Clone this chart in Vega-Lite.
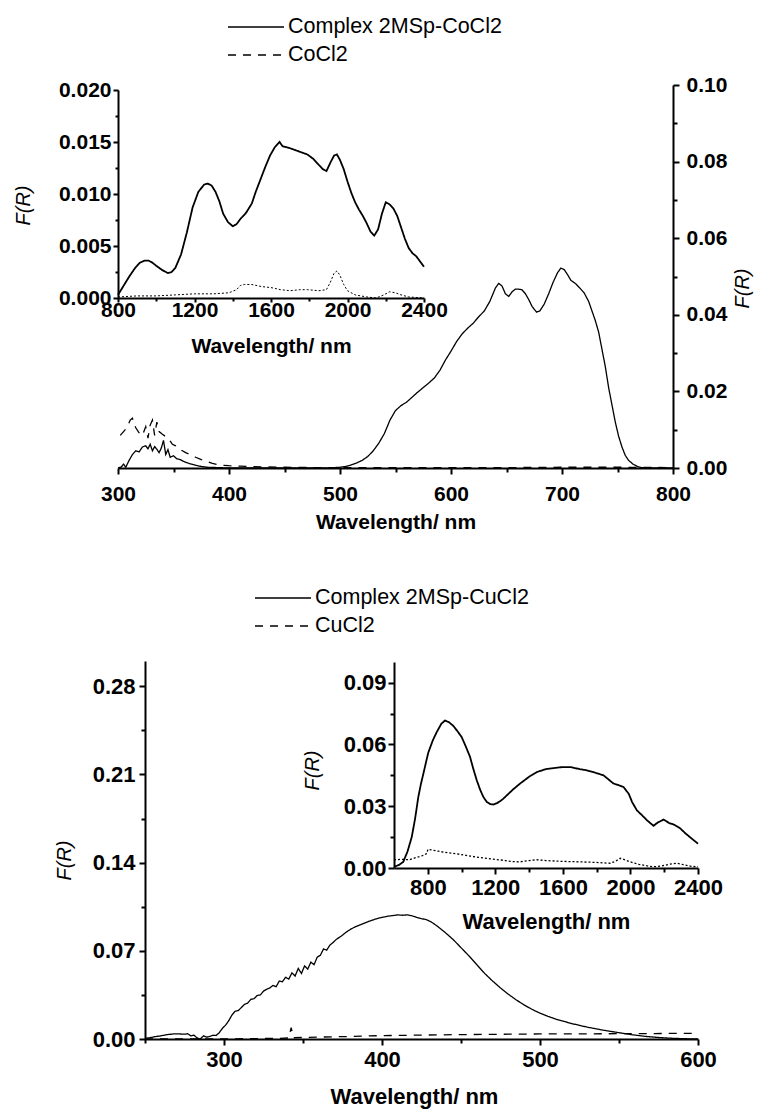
{
 "$schema": "https://vega.github.io/schema/vega-lite/v6.json",
 "width": 580,
 "height": 954,
 "autosize": {"type": "none"},
 "padding": {"left": 118, "top": 85, "right": 60, "bottom": 74},
 "background": "white",
 "config": {
  "view": {"stroke": null},
  "font": "Liberation Sans",
  "axis": {
   "grid": false,
   "domainColor": "black", "domainWidth": 2,
   "tickColor": "black", "tickWidth": 2, "tickSize": 6,
   "labelFont": "Liberation Sans", "labelFontWeight": "bold", "labelFontSize": 21, "labelColor": "black",
   "labelFlush": false, "labelOverlap": false,
   "titleFont": "Liberation Sans", "titleFontSize": 21, "titleFontWeight": "bold", "titleColor": "black"
  },
  "legend": {"labelFont": "Liberation Sans", "labelColor": "black", "labelLimit": 0}
 },
 "datasets": {
  "topMain": [
   {"wl":300,"fr":0,"s":"Complex 2MSp-CoCl2"},{"wl":303,"fr":0.0003,"s":"Complex 2MSp-CoCl2"},{"wl":305,"fr":0.001,"s":"Complex 2MSp-CoCl2"},{"wl":307,"fr":0.0002,"s":"Complex 2MSp-CoCl2"},{"wl":310,"fr":0.002,"s":"Complex 2MSp-CoCl2"},{"wl":313,"fr":0.0035,"s":"Complex 2MSp-CoCl2"},{"wl":316,"fr":0.0045,"s":"Complex 2MSp-CoCl2"},{"wl":319,"fr":0.0042,"s":"Complex 2MSp-CoCl2"},{"wl":322,"fr":0.0055,"s":"Complex 2MSp-CoCl2"},{"wl":325,"fr":0.0058,"s":"Complex 2MSp-CoCl2"},{"wl":327,"fr":0.005,"s":"Complex 2MSp-CoCl2"},{"wl":329,"fr":0.0062,"s":"Complex 2MSp-CoCl2"},{"wl":331,"fr":0.0045,"s":"Complex 2MSp-CoCl2"},{"wl":333,"fr":0.0056,"s":"Complex 2MSp-CoCl2"},{"wl":335,"fr":0.0049,"s":"Complex 2MSp-CoCl2"},{"wl":337,"fr":0.004,"s":"Complex 2MSp-CoCl2"},{"wl":339,"fr":0.0052,"s":"Complex 2MSp-CoCl2"},{"wl":341,"fr":0.0072,"s":"Complex 2MSp-CoCl2"},{"wl":343,"fr":0.0035,"s":"Complex 2MSp-CoCl2"},{"wl":345,"fr":0.0048,"s":"Complex 2MSp-CoCl2"},{"wl":347,"fr":0.0028,"s":"Complex 2MSp-CoCl2"},{"wl":350,"fr":0.0032,"s":"Complex 2MSp-CoCl2"},{"wl":353,"fr":0.0024,"s":"Complex 2MSp-CoCl2"},{"wl":356,"fr":0.0022,"s":"Complex 2MSp-CoCl2"},{"wl":360,"fr":0.0016,"s":"Complex 2MSp-CoCl2"},{"wl":365,"fr":0.0011,"s":"Complex 2MSp-CoCl2"},{"wl":370,"fr":0.0007,"s":"Complex 2MSp-CoCl2"},{"wl":375,"fr":0.0004,"s":"Complex 2MSp-CoCl2"},{"wl":380,"fr":0.0002,"s":"Complex 2MSp-CoCl2"},{"wl":390,"fr":0.0001,"s":"Complex 2MSp-CoCl2"},{"wl":400,"fr":0,"s":"Complex 2MSp-CoCl2"},{"wl":450,"fr":0,"s":"Complex 2MSp-CoCl2"},{"wl":490,"fr":0,"s":"Complex 2MSp-CoCl2"},{"wl":500,"fr":0.0002,"s":"Complex 2MSp-CoCl2"},{"wl":505,"fr":0.0004,"s":"Complex 2MSp-CoCl2"},{"wl":510,"fr":0.0008,"s":"Complex 2MSp-CoCl2"},{"wl":515,"fr":0.0013,"s":"Complex 2MSp-CoCl2"},{"wl":520,"fr":0.002,"s":"Complex 2MSp-CoCl2"},{"wl":525,"fr":0.003,"s":"Complex 2MSp-CoCl2"},{"wl":530,"fr":0.0045,"s":"Complex 2MSp-CoCl2"},{"wl":535,"fr":0.0065,"s":"Complex 2MSp-CoCl2"},{"wl":540,"fr":0.009,"s":"Complex 2MSp-CoCl2"},{"wl":545,"fr":0.0125,"s":"Complex 2MSp-CoCl2"},{"wl":550,"fr":0.015,"s":"Complex 2MSp-CoCl2"},{"wl":555,"fr":0.0163,"s":"Complex 2MSp-CoCl2"},{"wl":560,"fr":0.0172,"s":"Complex 2MSp-CoCl2"},{"wl":565,"fr":0.0185,"s":"Complex 2MSp-CoCl2"},{"wl":570,"fr":0.0198,"s":"Complex 2MSp-CoCl2"},{"wl":575,"fr":0.021,"s":"Complex 2MSp-CoCl2"},{"wl":580,"fr":0.0222,"s":"Complex 2MSp-CoCl2"},{"wl":585,"fr":0.0235,"s":"Complex 2MSp-CoCl2"},{"wl":590,"fr":0.0255,"s":"Complex 2MSp-CoCl2"},{"wl":595,"fr":0.0282,"s":"Complex 2MSp-CoCl2"},{"wl":600,"fr":0.0305,"s":"Complex 2MSp-CoCl2"},{"wl":605,"fr":0.033,"s":"Complex 2MSp-CoCl2"},{"wl":610,"fr":0.035,"s":"Complex 2MSp-CoCl2"},{"wl":615,"fr":0.0365,"s":"Complex 2MSp-CoCl2"},{"wl":620,"fr":0.0378,"s":"Complex 2MSp-CoCl2"},{"wl":625,"fr":0.0395,"s":"Complex 2MSp-CoCl2"},{"wl":630,"fr":0.041,"s":"Complex 2MSp-CoCl2"},{"wl":635,"fr":0.0435,"s":"Complex 2MSp-CoCl2"},{"wl":640,"fr":0.047,"s":"Complex 2MSp-CoCl2"},{"wl":643,"fr":0.0482,"s":"Complex 2MSp-CoCl2"},{"wl":646,"fr":0.0475,"s":"Complex 2MSp-CoCl2"},{"wl":649,"fr":0.0455,"s":"Complex 2MSp-CoCl2"},{"wl":652,"fr":0.0448,"s":"Complex 2MSp-CoCl2"},{"wl":655,"fr":0.046,"s":"Complex 2MSp-CoCl2"},{"wl":658,"fr":0.0467,"s":"Complex 2MSp-CoCl2"},{"wl":661,"fr":0.0467,"s":"Complex 2MSp-CoCl2"},{"wl":664,"fr":0.0465,"s":"Complex 2MSp-CoCl2"},{"wl":667,"fr":0.0455,"s":"Complex 2MSp-CoCl2"},{"wl":670,"fr":0.044,"s":"Complex 2MSp-CoCl2"},{"wl":673,"fr":0.0422,"s":"Complex 2MSp-CoCl2"},{"wl":677,"fr":0.0407,"s":"Complex 2MSp-CoCl2"},{"wl":680,"fr":0.041,"s":"Complex 2MSp-CoCl2"},{"wl":684,"fr":0.0428,"s":"Complex 2MSp-CoCl2"},{"wl":688,"fr":0.0455,"s":"Complex 2MSp-CoCl2"},{"wl":692,"fr":0.0485,"s":"Complex 2MSp-CoCl2"},{"wl":696,"fr":0.051,"s":"Complex 2MSp-CoCl2"},{"wl":699,"fr":0.0522,"s":"Complex 2MSp-CoCl2"},{"wl":702,"fr":0.0518,"s":"Complex 2MSp-CoCl2"},{"wl":705,"fr":0.0505,"s":"Complex 2MSp-CoCl2"},{"wl":708,"fr":0.049,"s":"Complex 2MSp-CoCl2"},{"wl":712,"fr":0.0482,"s":"Complex 2MSp-CoCl2"},{"wl":716,"fr":0.047,"s":"Complex 2MSp-CoCl2"},{"wl":720,"fr":0.0457,"s":"Complex 2MSp-CoCl2"},{"wl":724,"fr":0.0435,"s":"Complex 2MSp-CoCl2"},{"wl":727,"fr":0.041,"s":"Complex 2MSp-CoCl2"},{"wl":730,"fr":0.0385,"s":"Complex 2MSp-CoCl2"},{"wl":733,"fr":0.0355,"s":"Complex 2MSp-CoCl2"},{"wl":736,"fr":0.031,"s":"Complex 2MSp-CoCl2"},{"wl":739,"fr":0.0265,"s":"Complex 2MSp-CoCl2"},{"wl":742,"fr":0.021,"s":"Complex 2MSp-CoCl2"},{"wl":745,"fr":0.0165,"s":"Complex 2MSp-CoCl2"},{"wl":748,"fr":0.012,"s":"Complex 2MSp-CoCl2"},{"wl":751,"fr":0.0083,"s":"Complex 2MSp-CoCl2"},{"wl":754,"fr":0.0055,"s":"Complex 2MSp-CoCl2"},{"wl":757,"fr":0.0033,"s":"Complex 2MSp-CoCl2"},{"wl":760,"fr":0.002,"s":"Complex 2MSp-CoCl2"},{"wl":764,"fr":0.001,"s":"Complex 2MSp-CoCl2"},{"wl":768,"fr":0.0004,"s":"Complex 2MSp-CoCl2"},{"wl":772,"fr":0.0001,"s":"Complex 2MSp-CoCl2"},{"wl":780,"fr":0,"s":"Complex 2MSp-CoCl2"},{"wl":800,"fr":0,"s":"Complex 2MSp-CoCl2"},
   {"wl":302,"fr":0.0085,"s":"CoCl2"},{"wl":305,"fr":0.0095,"s":"CoCl2"},{"wl":308,"fr":0.0105,"s":"CoCl2"},{"wl":311,"fr":0.0125,"s":"CoCl2"},{"wl":313,"fr":0.013,"s":"CoCl2"},{"wl":316,"fr":0.0105,"s":"CoCl2"},{"wl":319,"fr":0.0092,"s":"CoCl2"},{"wl":322,"fr":0.0085,"s":"CoCl2"},{"wl":325,"fr":0.0108,"s":"CoCl2"},{"wl":327,"fr":0.0078,"s":"CoCl2"},{"wl":329,"fr":0.0112,"s":"CoCl2"},{"wl":331,"fr":0.0125,"s":"CoCl2"},{"wl":333,"fr":0.0085,"s":"CoCl2"},{"wl":335,"fr":0.012,"s":"CoCl2"},{"wl":337,"fr":0.0095,"s":"CoCl2"},{"wl":340,"fr":0.0088,"s":"CoCl2"},{"wl":343,"fr":0.0082,"s":"CoCl2"},{"wl":346,"fr":0.0075,"s":"CoCl2"},{"wl":349,"fr":0.0062,"s":"CoCl2"},{"wl":352,"fr":0.0058,"s":"CoCl2"},{"wl":355,"fr":0.005,"s":"CoCl2"},{"wl":358,"fr":0.0045,"s":"CoCl2"},{"wl":361,"fr":0.004,"s":"CoCl2"},{"wl":365,"fr":0.0035,"s":"CoCl2"},{"wl":370,"fr":0.0028,"s":"CoCl2"},{"wl":375,"fr":0.0022,"s":"CoCl2"},{"wl":380,"fr":0.0017,"s":"CoCl2"},{"wl":385,"fr":0.0012,"s":"CoCl2"},{"wl":390,"fr":0.0009,"s":"CoCl2"},{"wl":395,"fr":0.0007,"s":"CoCl2"},{"wl":400,"fr":0.0006,"s":"CoCl2"},{"wl":410,"fr":0.0005,"s":"CoCl2"},{"wl":420,"fr":0.0004,"s":"CoCl2"},{"wl":430,"fr":0.0003,"s":"CoCl2"},{"wl":450,"fr":0.0002,"s":"CoCl2"},{"wl":480,"fr":0.0001,"s":"CoCl2"},{"wl":550,"fr":0.0001,"s":"CoCl2"},{"wl":650,"fr":0.0001,"s":"CoCl2"},{"wl":700,"fr":0.0002,"s":"CoCl2"},{"wl":750,"fr":0.0002,"s":"CoCl2"},{"wl":800,"fr":0.0001,"s":"CoCl2"}
  ],
  "topInset": [
   {"wl":800,"fr":0.0003,"s":"Complex 2MSp-CoCl2"},{"wl":830,"fr":0.0012,"s":"Complex 2MSp-CoCl2"},{"wl":860,"fr":0.0021,"s":"Complex 2MSp-CoCl2"},{"wl":890,"fr":0.0029,"s":"Complex 2MSp-CoCl2"},{"wl":915,"fr":0.0034,"s":"Complex 2MSp-CoCl2"},{"wl":940,"fr":0.0036,"s":"Complex 2MSp-CoCl2"},{"wl":960,"fr":0.0036,"s":"Complex 2MSp-CoCl2"},{"wl":980,"fr":0.0034,"s":"Complex 2MSp-CoCl2"},{"wl":1000,"fr":0.0031,"s":"Complex 2MSp-CoCl2"},{"wl":1030,"fr":0.0027,"s":"Complex 2MSp-CoCl2"},{"wl":1060,"fr":0.0024,"s":"Complex 2MSp-CoCl2"},{"wl":1080,"fr":0.0025,"s":"Complex 2MSp-CoCl2"},{"wl":1100,"fr":0.0029,"s":"Complex 2MSp-CoCl2"},{"wl":1130,"fr":0.0042,"s":"Complex 2MSp-CoCl2"},{"wl":1160,"fr":0.0063,"s":"Complex 2MSp-CoCl2"},{"wl":1190,"fr":0.0087,"s":"Complex 2MSp-CoCl2"},{"wl":1220,"fr":0.0102,"s":"Complex 2MSp-CoCl2"},{"wl":1250,"fr":0.0109,"s":"Complex 2MSp-CoCl2"},{"wl":1270,"fr":0.011,"s":"Complex 2MSp-CoCl2"},{"wl":1290,"fr":0.0108,"s":"Complex 2MSp-CoCl2"},{"wl":1310,"fr":0.0102,"s":"Complex 2MSp-CoCl2"},{"wl":1330,"fr":0.0093,"s":"Complex 2MSp-CoCl2"},{"wl":1350,"fr":0.0081,"s":"Complex 2MSp-CoCl2"},{"wl":1375,"fr":0.0073,"s":"Complex 2MSp-CoCl2"},{"wl":1400,"fr":0.0069,"s":"Complex 2MSp-CoCl2"},{"wl":1420,"fr":0.0071,"s":"Complex 2MSp-CoCl2"},{"wl":1440,"fr":0.0076,"s":"Complex 2MSp-CoCl2"},{"wl":1470,"fr":0.0082,"s":"Complex 2MSp-CoCl2"},{"wl":1500,"fr":0.0091,"s":"Complex 2MSp-CoCl2"},{"wl":1520,"fr":0.0102,"s":"Complex 2MSp-CoCl2"},{"wl":1545,"fr":0.0114,"s":"Complex 2MSp-CoCl2"},{"wl":1570,"fr":0.0126,"s":"Complex 2MSp-CoCl2"},{"wl":1595,"fr":0.0137,"s":"Complex 2MSp-CoCl2"},{"wl":1620,"fr":0.0145,"s":"Complex 2MSp-CoCl2"},{"wl":1645,"fr":0.015,"s":"Complex 2MSp-CoCl2"},{"wl":1660,"fr":0.0146,"s":"Complex 2MSp-CoCl2"},{"wl":1680,"fr":0.0145,"s":"Complex 2MSp-CoCl2"},{"wl":1700,"fr":0.0144,"s":"Complex 2MSp-CoCl2"},{"wl":1730,"fr":0.0142,"s":"Complex 2MSp-CoCl2"},{"wl":1760,"fr":0.014,"s":"Complex 2MSp-CoCl2"},{"wl":1790,"fr":0.0138,"s":"Complex 2MSp-CoCl2"},{"wl":1820,"fr":0.0134,"s":"Complex 2MSp-CoCl2"},{"wl":1850,"fr":0.0128,"s":"Complex 2MSp-CoCl2"},{"wl":1870,"fr":0.0124,"s":"Complex 2MSp-CoCl2"},{"wl":1890,"fr":0.0122,"s":"Complex 2MSp-CoCl2"},{"wl":1910,"fr":0.013,"s":"Complex 2MSp-CoCl2"},{"wl":1930,"fr":0.0137,"s":"Complex 2MSp-CoCl2"},{"wl":1945,"fr":0.0138,"s":"Complex 2MSp-CoCl2"},{"wl":1960,"fr":0.0133,"s":"Complex 2MSp-CoCl2"},{"wl":1980,"fr":0.0124,"s":"Complex 2MSp-CoCl2"},{"wl":2000,"fr":0.0112,"s":"Complex 2MSp-CoCl2"},{"wl":2020,"fr":0.0101,"s":"Complex 2MSp-CoCl2"},{"wl":2040,"fr":0.0092,"s":"Complex 2MSp-CoCl2"},{"wl":2060,"fr":0.0085,"s":"Complex 2MSp-CoCl2"},{"wl":2080,"fr":0.0079,"s":"Complex 2MSp-CoCl2"},{"wl":2100,"fr":0.0072,"s":"Complex 2MSp-CoCl2"},{"wl":2120,"fr":0.0064,"s":"Complex 2MSp-CoCl2"},{"wl":2140,"fr":0.006,"s":"Complex 2MSp-CoCl2"},{"wl":2160,"fr":0.0066,"s":"Complex 2MSp-CoCl2"},{"wl":2180,"fr":0.0081,"s":"Complex 2MSp-CoCl2"},{"wl":2200,"fr":0.0092,"s":"Complex 2MSp-CoCl2"},{"wl":2220,"fr":0.009,"s":"Complex 2MSp-CoCl2"},{"wl":2240,"fr":0.0086,"s":"Complex 2MSp-CoCl2"},{"wl":2260,"fr":0.0079,"s":"Complex 2MSp-CoCl2"},{"wl":2280,"fr":0.0068,"s":"Complex 2MSp-CoCl2"},{"wl":2300,"fr":0.0057,"s":"Complex 2MSp-CoCl2"},{"wl":2320,"fr":0.0048,"s":"Complex 2MSp-CoCl2"},{"wl":2340,"fr":0.0043,"s":"Complex 2MSp-CoCl2"},{"wl":2360,"fr":0.004,"s":"Complex 2MSp-CoCl2"},{"wl":2380,"fr":0.0035,"s":"Complex 2MSp-CoCl2"},{"wl":2400,"fr":0.003,"s":"Complex 2MSp-CoCl2"},
   {"wl":800,"fr":0.0001,"s":"CoCl2"},{"wl":900,"fr":0.0002,"s":"CoCl2"},{"wl":1000,"fr":0.0002,"s":"CoCl2"},{"wl":1100,"fr":0.0003,"s":"CoCl2"},{"wl":1200,"fr":0.0004,"s":"CoCl2"},{"wl":1300,"fr":0.0004,"s":"CoCl2"},{"wl":1380,"fr":0.0005,"s":"CoCl2"},{"wl":1420,"fr":0.0008,"s":"CoCl2"},{"wl":1440,"fr":0.0012,"s":"CoCl2"},{"wl":1460,"fr":0.0013,"s":"CoCl2"},{"wl":1500,"fr":0.0013,"s":"CoCl2"},{"wl":1550,"fr":0.0011,"s":"CoCl2"},{"wl":1600,"fr":0.001,"s":"CoCl2"},{"wl":1650,"fr":0.0008,"s":"CoCl2"},{"wl":1700,"fr":0.0007,"s":"CoCl2"},{"wl":1750,"fr":0.0008,"s":"CoCl2"},{"wl":1790,"fr":0.0008,"s":"CoCl2"},{"wl":1850,"fr":0.0007,"s":"CoCl2"},{"wl":1890,"fr":0.0008,"s":"CoCl2"},{"wl":1910,"fr":0.0015,"s":"CoCl2"},{"wl":1930,"fr":0.0024,"s":"CoCl2"},{"wl":1945,"fr":0.0026,"s":"CoCl2"},{"wl":1960,"fr":0.0022,"s":"CoCl2"},{"wl":1980,"fr":0.0013,"s":"CoCl2"},{"wl":2000,"fr":0.0007,"s":"CoCl2"},{"wl":2040,"fr":0.0003,"s":"CoCl2"},{"wl":2100,"fr":0.0001,"s":"CoCl2"},{"wl":2150,"fr":0,"s":"CoCl2"},{"wl":2190,"fr":0.0003,"s":"CoCl2"},{"wl":2220,"fr":0.0006,"s":"CoCl2"},{"wl":2250,"fr":0.0005,"s":"CoCl2"},{"wl":2280,"fr":0.0003,"s":"CoCl2"},{"wl":2320,"fr":0.0001,"s":"CoCl2"},{"wl":2400,"fr":0,"s":"CoCl2"}
  ],
  "botMain": [
   {"wl":250,"fr":0.0005,"s":"Complex 2MSp-CuCl2"},{"wl":253,"fr":0.001,"s":"Complex 2MSp-CuCl2"},{"wl":256,"fr":0.0018,"s":"Complex 2MSp-CuCl2"},{"wl":260,"fr":0.0025,"s":"Complex 2MSp-CuCl2"},{"wl":264,"fr":0.0035,"s":"Complex 2MSp-CuCl2"},{"wl":268,"fr":0.004,"s":"Complex 2MSp-CuCl2"},{"wl":272,"fr":0.004,"s":"Complex 2MSp-CuCl2"},{"wl":275,"fr":0.0038,"s":"Complex 2MSp-CuCl2"},{"wl":277,"fr":0.0042,"s":"Complex 2MSp-CuCl2"},{"wl":279,"fr":0.0025,"s":"Complex 2MSp-CuCl2"},{"wl":281,"fr":0.003,"s":"Complex 2MSp-CuCl2"},{"wl":283,"fr":0.0008,"s":"Complex 2MSp-CuCl2"},{"wl":285,"fr":0,"s":"Complex 2MSp-CuCl2"},{"wl":287,"fr":0.0025,"s":"Complex 2MSp-CuCl2"},{"wl":289,"fr":0.0015,"s":"Complex 2MSp-CuCl2"},{"wl":291,"fr":0.002,"s":"Complex 2MSp-CuCl2"},{"wl":293,"fr":0.003,"s":"Complex 2MSp-CuCl2"},{"wl":295,"fr":0.0028,"s":"Complex 2MSp-CuCl2"},{"wl":297,"fr":0.005,"s":"Complex 2MSp-CuCl2"},{"wl":299,"fr":0.0085,"s":"Complex 2MSp-CuCl2"},{"wl":301,"fr":0.011,"s":"Complex 2MSp-CuCl2"},{"wl":303,"fr":0.0145,"s":"Complex 2MSp-CuCl2"},{"wl":305,"fr":0.019,"s":"Complex 2MSp-CuCl2"},{"wl":307,"fr":0.022,"s":"Complex 2MSp-CuCl2"},{"wl":309,"fr":0.0225,"s":"Complex 2MSp-CuCl2"},{"wl":311,"fr":0.025,"s":"Complex 2MSp-CuCl2"},{"wl":313,"fr":0.0275,"s":"Complex 2MSp-CuCl2"},{"wl":315,"fr":0.0285,"s":"Complex 2MSp-CuCl2"},{"wl":317,"fr":0.0315,"s":"Complex 2MSp-CuCl2"},{"wl":319,"fr":0.032,"s":"Complex 2MSp-CuCl2"},{"wl":321,"fr":0.0345,"s":"Complex 2MSp-CuCl2"},{"wl":323,"fr":0.035,"s":"Complex 2MSp-CuCl2"},{"wl":325,"fr":0.038,"s":"Complex 2MSp-CuCl2"},{"wl":327,"fr":0.0395,"s":"Complex 2MSp-CuCl2"},{"wl":329,"fr":0.0405,"s":"Complex 2MSp-CuCl2"},{"wl":331,"fr":0.0425,"s":"Complex 2MSp-CuCl2"},{"wl":333,"fr":0.0415,"s":"Complex 2MSp-CuCl2"},{"wl":335,"fr":0.046,"s":"Complex 2MSp-CuCl2"},{"wl":337,"fr":0.0455,"s":"Complex 2MSp-CuCl2"},{"wl":339,"fr":0.049,"s":"Complex 2MSp-CuCl2"},{"wl":341,"fr":0.0475,"s":"Complex 2MSp-CuCl2"},{"wl":343,"fr":0.0525,"s":"Complex 2MSp-CuCl2"},{"wl":345,"fr":0.05,"s":"Complex 2MSp-CuCl2"},{"wl":347,"fr":0.056,"s":"Complex 2MSp-CuCl2"},{"wl":349,"fr":0.052,"s":"Complex 2MSp-CuCl2"},{"wl":351,"fr":0.058,"s":"Complex 2MSp-CuCl2"},{"wl":353,"fr":0.0555,"s":"Complex 2MSp-CuCl2"},{"wl":355,"fr":0.061,"s":"Complex 2MSp-CuCl2"},{"wl":357,"fr":0.059,"s":"Complex 2MSp-CuCl2"},{"wl":359,"fr":0.065,"s":"Complex 2MSp-CuCl2"},{"wl":361,"fr":0.0665,"s":"Complex 2MSp-CuCl2"},{"wl":363,"fr":0.0715,"s":"Complex 2MSp-CuCl2"},{"wl":365,"fr":0.0705,"s":"Complex 2MSp-CuCl2"},{"wl":367,"fr":0.0745,"s":"Complex 2MSp-CuCl2"},{"wl":369,"fr":0.0765,"s":"Complex 2MSp-CuCl2"},{"wl":371,"fr":0.079,"s":"Complex 2MSp-CuCl2"},{"wl":374,"fr":0.0815,"s":"Complex 2MSp-CuCl2"},{"wl":377,"fr":0.0845,"s":"Complex 2MSp-CuCl2"},{"wl":380,"fr":0.087,"s":"Complex 2MSp-CuCl2"},{"wl":383,"fr":0.089,"s":"Complex 2MSp-CuCl2"},{"wl":386,"fr":0.0905,"s":"Complex 2MSp-CuCl2"},{"wl":389,"fr":0.092,"s":"Complex 2MSp-CuCl2"},{"wl":392,"fr":0.0935,"s":"Complex 2MSp-CuCl2"},{"wl":395,"fr":0.0948,"s":"Complex 2MSp-CuCl2"},{"wl":398,"fr":0.096,"s":"Complex 2MSp-CuCl2"},{"wl":401,"fr":0.0968,"s":"Complex 2MSp-CuCl2"},{"wl":404,"fr":0.0975,"s":"Complex 2MSp-CuCl2"},{"wl":407,"fr":0.098,"s":"Complex 2MSp-CuCl2"},{"wl":410,"fr":0.0985,"s":"Complex 2MSp-CuCl2"},{"wl":413,"fr":0.0982,"s":"Complex 2MSp-CuCl2"},{"wl":416,"fr":0.0985,"s":"Complex 2MSp-CuCl2"},{"wl":419,"fr":0.0978,"s":"Complex 2MSp-CuCl2"},{"wl":422,"fr":0.0965,"s":"Complex 2MSp-CuCl2"},{"wl":425,"fr":0.0955,"s":"Complex 2MSp-CuCl2"},{"wl":428,"fr":0.0948,"s":"Complex 2MSp-CuCl2"},{"wl":431,"fr":0.093,"s":"Complex 2MSp-CuCl2"},{"wl":434,"fr":0.0905,"s":"Complex 2MSp-CuCl2"},{"wl":437,"fr":0.0875,"s":"Complex 2MSp-CuCl2"},{"wl":440,"fr":0.0845,"s":"Complex 2MSp-CuCl2"},{"wl":445,"fr":0.079,"s":"Complex 2MSp-CuCl2"},{"wl":450,"fr":0.0725,"s":"Complex 2MSp-CuCl2"},{"wl":455,"fr":0.066,"s":"Complex 2MSp-CuCl2"},{"wl":460,"fr":0.059,"s":"Complex 2MSp-CuCl2"},{"wl":465,"fr":0.052,"s":"Complex 2MSp-CuCl2"},{"wl":470,"fr":0.046,"s":"Complex 2MSp-CuCl2"},{"wl":475,"fr":0.0405,"s":"Complex 2MSp-CuCl2"},{"wl":480,"fr":0.0355,"s":"Complex 2MSp-CuCl2"},{"wl":485,"fr":0.031,"s":"Complex 2MSp-CuCl2"},{"wl":490,"fr":0.027,"s":"Complex 2MSp-CuCl2"},{"wl":495,"fr":0.0235,"s":"Complex 2MSp-CuCl2"},{"wl":500,"fr":0.0205,"s":"Complex 2MSp-CuCl2"},{"wl":505,"fr":0.018,"s":"Complex 2MSp-CuCl2"},{"wl":510,"fr":0.0158,"s":"Complex 2MSp-CuCl2"},{"wl":515,"fr":0.014,"s":"Complex 2MSp-CuCl2"},{"wl":520,"fr":0.0123,"s":"Complex 2MSp-CuCl2"},{"wl":525,"fr":0.0108,"s":"Complex 2MSp-CuCl2"},{"wl":530,"fr":0.0094,"s":"Complex 2MSp-CuCl2"},{"wl":535,"fr":0.0082,"s":"Complex 2MSp-CuCl2"},{"wl":540,"fr":0.007,"s":"Complex 2MSp-CuCl2"},{"wl":545,"fr":0.006,"s":"Complex 2MSp-CuCl2"},{"wl":550,"fr":0.005,"s":"Complex 2MSp-CuCl2"},{"wl":555,"fr":0.004,"s":"Complex 2MSp-CuCl2"},{"wl":560,"fr":0.0031,"s":"Complex 2MSp-CuCl2"},{"wl":565,"fr":0.0023,"s":"Complex 2MSp-CuCl2"},{"wl":570,"fr":0.0017,"s":"Complex 2MSp-CuCl2"},{"wl":575,"fr":0.0012,"s":"Complex 2MSp-CuCl2"},{"wl":580,"fr":0.0008,"s":"Complex 2MSp-CuCl2"},{"wl":585,"fr":0.0005,"s":"Complex 2MSp-CuCl2"},{"wl":590,"fr":0.0003,"s":"Complex 2MSp-CuCl2"},{"wl":595,"fr":0.0001,"s":"Complex 2MSp-CuCl2"},{"wl":600,"fr":0,"s":"Complex 2MSp-CuCl2"},
   {"wl":250,"fr":0,"s":"CuCl2"},{"wl":300,"fr":0,"s":"CuCl2"},{"wl":320,"fr":0.0003,"s":"CuCl2"},{"wl":335,"fr":0.0005,"s":"CuCl2"},{"wl":341,"fr":0.0008,"s":"CuCl2"},{"wl":342.5,"fr":0.009,"s":"CuCl2"},{"wl":344,"fr":0.001,"s":"CuCl2"},{"wl":350,"fr":0.0012,"s":"CuCl2"},{"wl":360,"fr":0.0015,"s":"CuCl2"},{"wl":380,"fr":0.002,"s":"CuCl2"},{"wl":400,"fr":0.0027,"s":"CuCl2"},{"wl":420,"fr":0.003,"s":"CuCl2"},{"wl":450,"fr":0.0035,"s":"CuCl2"},{"wl":480,"fr":0.0038,"s":"CuCl2"},{"wl":500,"fr":0.004,"s":"CuCl2"},{"wl":550,"fr":0.0042,"s":"CuCl2"},{"wl":600,"fr":0.0045,"s":"CuCl2"}
  ],
  "botInset": [
   {"wl":600,"fr":0.0006,"s":"Complex 2MSp-CuCl2"},{"wl":630,"fr":0.0015,"s":"Complex 2MSp-CuCl2"},{"wl":655,"fr":0.003,"s":"Complex 2MSp-CuCl2"},{"wl":680,"fr":0.008,"s":"Complex 2MSp-CuCl2"},{"wl":705,"fr":0.015,"s":"Complex 2MSp-CuCl2"},{"wl":725,"fr":0.024,"s":"Complex 2MSp-CuCl2"},{"wl":744,"fr":0.0345,"s":"Complex 2MSp-CuCl2"},{"wl":760,"fr":0.041,"s":"Complex 2MSp-CuCl2"},{"wl":774,"fr":0.0458,"s":"Complex 2MSp-CuCl2"},{"wl":790,"fr":0.0515,"s":"Complex 2MSp-CuCl2"},{"wl":803,"fr":0.056,"s":"Complex 2MSp-CuCl2"},{"wl":830,"fr":0.062,"s":"Complex 2MSp-CuCl2"},{"wl":853,"fr":0.066,"s":"Complex 2MSp-CuCl2"},{"wl":880,"fr":0.07,"s":"Complex 2MSp-CuCl2"},{"wl":902,"fr":0.0716,"s":"Complex 2MSp-CuCl2"},{"wl":925,"fr":0.0708,"s":"Complex 2MSp-CuCl2"},{"wl":951,"fr":0.069,"s":"Complex 2MSp-CuCl2"},{"wl":975,"fr":0.0665,"s":"Complex 2MSp-CuCl2"},{"wl":1001,"fr":0.0635,"s":"Complex 2MSp-CuCl2"},{"wl":1025,"fr":0.059,"s":"Complex 2MSp-CuCl2"},{"wl":1050,"fr":0.054,"s":"Complex 2MSp-CuCl2"},{"wl":1070,"fr":0.048,"s":"Complex 2MSp-CuCl2"},{"wl":1090,"fr":0.0426,"s":"Complex 2MSp-CuCl2"},{"wl":1110,"fr":0.038,"s":"Complex 2MSp-CuCl2"},{"wl":1129,"fr":0.0345,"s":"Complex 2MSp-CuCl2"},{"wl":1150,"fr":0.032,"s":"Complex 2MSp-CuCl2"},{"wl":1170,"fr":0.031,"s":"Complex 2MSp-CuCl2"},{"wl":1188,"fr":0.0308,"s":"Complex 2MSp-CuCl2"},{"wl":1210,"fr":0.0315,"s":"Complex 2MSp-CuCl2"},{"wl":1230,"fr":0.0325,"s":"Complex 2MSp-CuCl2"},{"wl":1248,"fr":0.0337,"s":"Complex 2MSp-CuCl2"},{"wl":1280,"fr":0.0362,"s":"Complex 2MSp-CuCl2"},{"wl":1310,"fr":0.0385,"s":"Complex 2MSp-CuCl2"},{"wl":1347,"fr":0.041,"s":"Complex 2MSp-CuCl2"},{"wl":1400,"fr":0.0443,"s":"Complex 2MSp-CuCl2"},{"wl":1446,"fr":0.0466,"s":"Complex 2MSp-CuCl2"},{"wl":1500,"fr":0.048,"s":"Complex 2MSp-CuCl2"},{"wl":1544,"fr":0.0485,"s":"Complex 2MSp-CuCl2"},{"wl":1600,"fr":0.049,"s":"Complex 2MSp-CuCl2"},{"wl":1643,"fr":0.049,"s":"Complex 2MSp-CuCl2"},{"wl":1700,"fr":0.048,"s":"Complex 2MSp-CuCl2"},{"wl":1742,"fr":0.0474,"s":"Complex 2MSp-CuCl2"},{"wl":1790,"fr":0.0463,"s":"Complex 2MSp-CuCl2"},{"wl":1840,"fr":0.045,"s":"Complex 2MSp-CuCl2"},{"wl":1870,"fr":0.043,"s":"Complex 2MSp-CuCl2"},{"wl":1900,"fr":0.041,"s":"Complex 2MSp-CuCl2"},{"wl":1930,"fr":0.0402,"s":"Complex 2MSp-CuCl2"},{"wl":1959,"fr":0.0393,"s":"Complex 2MSp-CuCl2"},{"wl":1990,"fr":0.036,"s":"Complex 2MSp-CuCl2"},{"wl":2010,"fr":0.032,"s":"Complex 2MSp-CuCl2"},{"wl":2038,"fr":0.028,"s":"Complex 2MSp-CuCl2"},{"wl":2070,"fr":0.0255,"s":"Complex 2MSp-CuCl2"},{"wl":2100,"fr":0.023,"s":"Complex 2MSp-CuCl2"},{"wl":2137,"fr":0.0205,"s":"Complex 2MSp-CuCl2"},{"wl":2160,"fr":0.022,"s":"Complex 2MSp-CuCl2"},{"wl":2196,"fr":0.0235,"s":"Complex 2MSp-CuCl2"},{"wl":2230,"fr":0.0218,"s":"Complex 2MSp-CuCl2"},{"wl":2260,"fr":0.021,"s":"Complex 2MSp-CuCl2"},{"wl":2295,"fr":0.0192,"s":"Complex 2MSp-CuCl2"},{"wl":2330,"fr":0.0165,"s":"Complex 2MSp-CuCl2"},{"wl":2370,"fr":0.0138,"s":"Complex 2MSp-CuCl2"},{"wl":2400,"fr":0.0118,"s":"Complex 2MSp-CuCl2"},
   {"wl":600,"fr":0.004,"s":"CuCl2"},{"wl":650,"fr":0.0042,"s":"CuCl2"},{"wl":690,"fr":0.004,"s":"CuCl2"},{"wl":720,"fr":0.0048,"s":"CuCl2"},{"wl":750,"fr":0.0055,"s":"CuCl2"},{"wl":780,"fr":0.0063,"s":"CuCl2"},{"wl":796,"fr":0.0072,"s":"CuCl2"},{"wl":800,"fr":0.009,"s":"CuCl2"},{"wl":820,"fr":0.0088,"s":"CuCl2"},{"wl":860,"fr":0.0082,"s":"CuCl2"},{"wl":900,"fr":0.0076,"s":"CuCl2"},{"wl":951,"fr":0.0071,"s":"CuCl2"},{"wl":1000,"fr":0.0065,"s":"CuCl2"},{"wl":1050,"fr":0.0058,"s":"CuCl2"},{"wl":1100,"fr":0.0052,"s":"CuCl2"},{"wl":1149,"fr":0.0047,"s":"CuCl2"},{"wl":1200,"fr":0.0042,"s":"CuCl2"},{"wl":1260,"fr":0.0036,"s":"CuCl2"},{"wl":1300,"fr":0.0031,"s":"CuCl2"},{"wl":1347,"fr":0.003,"s":"CuCl2"},{"wl":1400,"fr":0.0036,"s":"CuCl2"},{"wl":1446,"fr":0.004,"s":"CuCl2"},{"wl":1500,"fr":0.0036,"s":"CuCl2"},{"wl":1600,"fr":0.0032,"s":"CuCl2"},{"wl":1700,"fr":0.003,"s":"CuCl2"},{"wl":1800,"fr":0.0027,"s":"CuCl2"},{"wl":1880,"fr":0.0023,"s":"CuCl2"},{"wl":1910,"fr":0.0032,"s":"CuCl2"},{"wl":1939,"fr":0.0047,"s":"CuCl2"},{"wl":1960,"fr":0.0042,"s":"CuCl2"},{"wl":1998,"fr":0.003,"s":"CuCl2"},{"wl":2050,"fr":0.0018,"s":"CuCl2"},{"wl":2100,"fr":0.001,"s":"CuCl2"},{"wl":2137,"fr":0.0006,"s":"CuCl2"},{"wl":2180,"fr":0.0009,"s":"CuCl2"},{"wl":2230,"fr":0.0018,"s":"CuCl2"},{"wl":2275,"fr":0.0023,"s":"CuCl2"},{"wl":2320,"fr":0.0015,"s":"CuCl2"},{"wl":2360,"fr":0.0008,"s":"CuCl2"},{"wl":2400,"fr":0.0006,"s":"CuCl2"}
  ]
 },
 "layer": [
  {
   "data": {"name": "topMain"},
   "mark": {"type": "line", "color": "black", "strokeWidth": 1.3},
   "encoding": {
    "x": {"field": "wl", "type": "quantitative",
     "scale": {"domain": [300, 800], "range": [0, 555], "nice": false, "zero": false},
     "axis": {"orient": "bottom", "offset": -571, "values": [300, 400, 500, 600, 700, 800], "format": "d", "title": "Wavelength/ nm", "labelPadding": 9, "titleBaseline": "middle", "titleX": 277.5, "titleY": 54}},
    "y": {"field": "fr", "type": "quantitative",
     "scale": {"domain": [0, 0.1], "range": [383, 0], "nice": false},
     "axis": {"orient": "right", "offset": -25, "values": [0, 0.02, 0.04, 0.06, 0.08, 0.1], "format": ".2f", "labelPadding": 7, "title": "F(R)", "titleFontStyle": "italic", "titleFontWeight": "normal", "titleFontSize": 20, "titleAngle": -90, "titleBaseline": "middle", "titleAlign": "center", "titleX": 69, "titleY": 203}},
    "strokeDash": {"field": "s", "type": "nominal",
     "scale": {"domain": ["Complex 2MSp-CoCl2", "CoCl2"], "range": [[1, 0], [8, 7]]},
     "legend": {"orient": "none", "legendX": 127, "legendY": -69, "title": null, "symbolType": "M-2.8,0H2.8", "symbolSize": 400, "symbolStrokeWidth": 1.3, "symbolStrokeColor": "black", "labelFontSize": 21.5, "labelLimit": 0, "labelOffset": 21, "rowPadding": 6, "padding": 0}}
   }
  },
  {
   "data": {"name": "topMain"},
   "mark": {"type": "line", "strokeOpacity": 0},
   "encoding": {
    "x": {"field": "wl", "type": "quantitative",
     "scale": {"domain": [300, 800], "range": [0, 555], "nice": false, "zero": false},
     "axis": {"orient": "bottom", "offset": -571, "values": [350, 450, 550, 650, 750], "labels": false, "domain": false, "tickSize": 4, "title": null}},
    "y": {"field": "fr", "type": "quantitative",
     "scale": {"domain": [0, 0.1], "range": [383, 0], "nice": false},
     "axis": {"orient": "right", "offset": -25, "values": [0.01, 0.03, 0.05, 0.07, 0.09], "labels": false, "domain": false, "tickSize": 4, "title": null}}
   }
  },
  {
   "data": {"name": "topInset"},
   "mark": {"type": "line", "color": "black"},
   "encoding": {
    "x": {"field": "wl", "type": "quantitative",
     "scale": {"domain": [800, 2400], "range": [0, 306], "nice": false, "zero": false},
     "axis": {"orient": "bottom", "offset": -741, "values": [800, 1200, 1600, 2000, 2400], "format": "d", "title": "Wavelength/ nm", "tickSize": 4, "labelPadding": -3, "titleBaseline": "middle", "titleX": 153, "titleY": 48}},
    "y": {"field": "fr", "type": "quantitative",
     "scale": {"domain": [0, 0.02], "range": [213, 5], "nice": false},
     "axis": {"orient": "left", "offset": 0, "values": [0, 0.005, 0.01, 0.015, 0.02], "format": ".3f", "tickSize": 5, "labelPadding": 2, "title": "F(R)", "titleFontStyle": "italic", "titleFontWeight": "normal", "titleFontSize": 20, "titleAngle": -90, "titleBaseline": "middle", "titleAlign": "center", "titleX": -95, "titleY": 120}},
    "strokeDash": {"field": "s", "type": "nominal",
     "scale": {"domain": ["Complex 2MSp-CoCl2", "CoCl2"], "range": [[1, 0], [2, 2]]}, "legend": null},
    "strokeWidth": {"condition": {"test": "datum.s === 'CoCl2'", "value": 1}, "value": 1.8}
   }
  },
  {
   "data": {"name": "topInset"},
   "mark": {"type": "line", "strokeOpacity": 0},
   "encoding": {
    "x": {"field": "wl", "type": "quantitative",
     "scale": {"domain": [800, 2400], "range": [0, 306], "nice": false, "zero": false},
     "axis": {"orient": "bottom", "offset": -741, "values": [1000, 1400, 1800, 2200], "labels": false, "domain": false, "tickSize": 3, "title": null}},
    "y": {"field": "fr", "type": "quantitative",
     "scale": {"domain": [0, 0.02], "range": [213, 5], "nice": false},
     "axis": {"orient": "left", "offset": 0, "values": [0.0025, 0.0075, 0.0125, 0.0175], "labels": false, "domain": false, "tickSize": 3, "title": null}}
   }
  },
  {
   "data": {"name": "botMain"},
   "mark": {"type": "line", "color": "black", "strokeWidth": 1.3},
   "encoding": {
    "x": {"field": "wl", "type": "quantitative",
     "scale": {"domain": [250, 600], "range": [27, 580], "nice": false, "zero": false},
     "axis": {"orient": "bottom", "offset": 0, "values": [300, 400, 500, 600], "format": "d", "title": "Wavelength/ nm", "labelFontSize": 22, "titleFontSize": 22, "labelPadding": 4, "titleBaseline": "middle", "titleX": 296, "titleY": 57}},
    "y": {"field": "fr", "type": "quantitative",
     "scale": {"domain": [0, 0.3], "range": [954, 576], "nice": false},
     "axis": {"orient": "left", "offset": -27, "values": [0, 0.07, 0.14, 0.21, 0.28], "format": ".2f", "labelFontSize": 22, "labelPadding": 4, "title": "F(R)", "titleFontStyle": "italic", "titleFontWeight": "normal", "titleFontSize": 20, "titleAngle": -90, "titleBaseline": "middle", "titleAlign": "center", "titleX": -81, "titleY": 775}},
    "strokeDash": {"field": "s", "type": "nominal",
     "scale": {"domain": ["Complex 2MSp-CuCl2", "CuCl2"], "range": [[1, 0], [8, 7]]},
     "legend": {"orient": "none", "legendX": 154, "legendY": 502, "title": null, "symbolType": "M-2.8,0H2.8", "symbolSize": 400, "symbolStrokeWidth": 1.3, "symbolStrokeColor": "black", "labelFontSize": 21.5, "labelLimit": 0, "labelOffset": 21, "rowPadding": 6, "padding": 0}}
   }
  },
  {
   "data": {"name": "botMain"},
   "mark": {"type": "line", "strokeOpacity": 0},
   "encoding": {
    "x": {"field": "wl", "type": "quantitative",
     "scale": {"domain": [250, 600], "range": [27, 580], "nice": false, "zero": false},
     "axis": {"orient": "bottom", "offset": 0, "values": [250, 350, 450, 550], "labels": false, "domain": false, "tickSize": 4, "title": null}},
    "y": {"field": "fr", "type": "quantitative",
     "scale": {"domain": [0, 0.3], "range": [954, 576], "nice": false},
     "axis": {"orient": "left", "offset": -27, "values": [0.035, 0.105, 0.175, 0.245], "labels": false, "domain": false, "tickSize": 4, "title": null}}
   }
  },
  {
   "data": {"name": "botInset"},
   "mark": {"type": "line", "color": "black"},
   "encoding": {
    "x": {"field": "wl", "type": "quantitative",
     "scale": {"domain": [600, 2400], "range": [276, 580], "nice": false, "zero": false},
     "axis": {"orient": "bottom", "offset": -171, "values": [800, 1200, 1600, 2000, 2400], "format": "d", "title": "Wavelength/ nm", "labelFontSize": 22, "titleFontSize": 22, "labelPadding": 3, "titleBaseline": "middle", "titleX": 428, "titleY": 53}},
    "y": {"field": "fr", "type": "quantitative",
     "scale": {"domain": [0, 0.1], "range": [783, 577], "nice": false},
     "axis": {"orient": "left", "offset": -276, "values": [0, 0.03, 0.06, 0.09], "format": ".2f", "labelFontSize": 22, "labelPadding": 2, "title": "F(R)", "titleFontStyle": "italic", "titleFontWeight": "normal", "titleFontSize": 20, "titleAngle": -90, "titleBaseline": "middle", "titleAlign": "center", "titleX": -82, "titleY": 685}},
    "strokeDash": {"field": "s", "type": "nominal",
     "scale": {"domain": ["Complex 2MSp-CuCl2", "CuCl2"], "range": [[1, 0], [2, 2]]}, "legend": null},
    "strokeWidth": {"condition": {"test": "datum.s === 'CuCl2'", "value": 1.3}, "value": 1.8}
   }
  },
  {
   "data": {"name": "botInset"},
   "mark": {"type": "line", "strokeOpacity": 0},
   "encoding": {
    "x": {"field": "wl", "type": "quantitative",
     "scale": {"domain": [600, 2400], "range": [276, 580], "nice": false, "zero": false},
     "axis": {"orient": "bottom", "offset": -171, "values": [1000, 1400, 1800, 2200], "labels": false, "domain": false, "tickSize": 4, "title": null}},
    "y": {"field": "fr", "type": "quantitative",
     "scale": {"domain": [0, 0.1], "range": [783, 577], "nice": false},
     "axis": {"orient": "left", "offset": -276, "values": [0.015, 0.045, 0.075], "labels": false, "domain": false, "tickSize": 4, "title": null}}
   }
  }
 ],
 "resolve": {
  "scale": {"x": "independent", "y": "independent", "strokeDash": "independent"},
  "axis": {"x": "independent", "y": "independent"},
  "legend": {"strokeDash": "independent"}
 }
}
